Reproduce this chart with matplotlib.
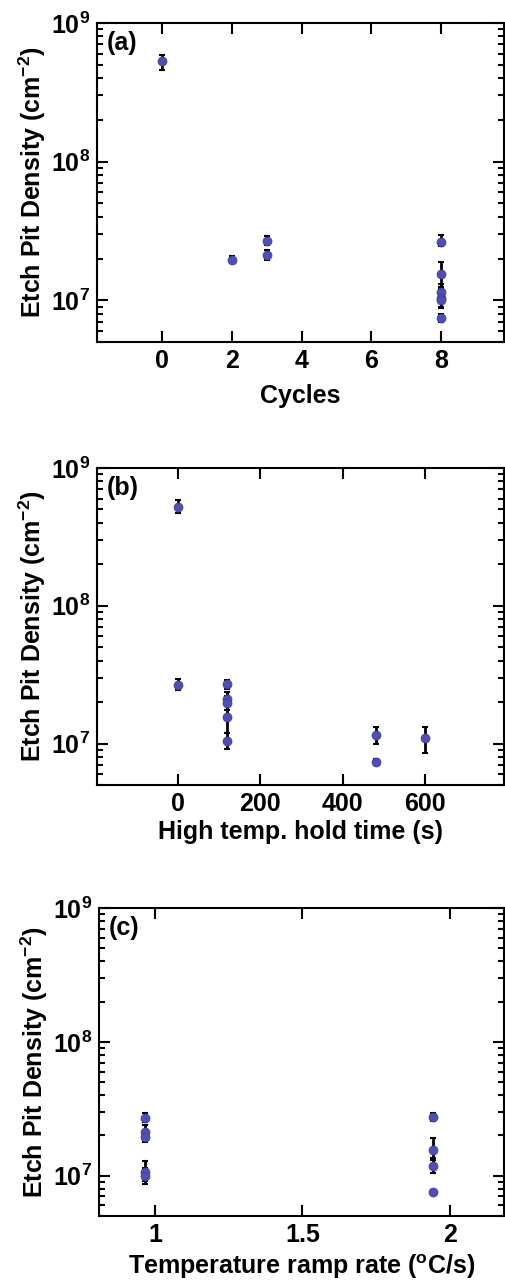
import numpy as np
import matplotlib
matplotlib.use('Agg')
import matplotlib.pyplot as plt
from matplotlib.ticker import LogLocator, NullFormatter

plt.rcParams['font.family'] = ['Liberation Sans', 'DejaVu Sans']
plt.rcParams['font.weight'] = 'bold'
plt.rcParams['mathtext.fontset'] = 'custom'
plt.rcParams['mathtext.rm'] = 'Liberation Sans:bold'
plt.rcParams['mathtext.bf'] = 'Liberation Sans:bold'
plt.rcParams['mathtext.default'] = 'bf'

# (a) etch pit density vs cycles
cyc_x = [0, 2, 3, 3, 8, 8, 8, 8, 8, 8]
cyc_y = [5.3e8, 1.95e7, 2.68e7, 2.11e7, 2.65e7, 1.54e7, 1.15e7, 1.04e7, 1.0e7, 7.45e6]
cyc_lo = [4.6e8, 1.85e7, 2.5e7, 1.95e7, 2.45e7, 1.25e7, 1.0e7, 0.9e7, 0.88e7, 7.0e6]
cyc_hi = [5.9e8, 2.1e7, 2.9e7, 2.3e7, 2.95e7, 1.9e7, 1.3e7, 1.2e7, 1.12e7, 7.9e6]

# (b) vs high temp. hold time
hold_x = [0, 0, 120, 120, 120, 120, 120, 480, 480, 600]
hold_y = [5.2e8, 2.68e7, 2.7e7, 2.12e7, 1.97e7, 1.56e7, 1.04e7, 1.15e7, 7.4e6, 1.09e7]
hold_lo = [4.7e8, 2.45e7, 2.5e7, 1.9e7, 1.75e7, 1.2e7, 9.2e6, 1.0e7, 7.1e6, 8.6e6]
hold_hi = [5.9e8, 2.95e7, 2.9e7, 2.35e7, 2.2e7, 1.9e7, 1.2e7, 1.32e7, 7.7e6, 1.32e7]

# (c) vs temperature ramp rate
ramp_x = [0.966, 0.966, 0.966, 0.966, 0.966, 1.943, 1.943, 1.943, 1.943]
ramp_y = [2.71e7, 2.13e7, 1.95e7, 1.06e7, 1.0e7, 2.75e7, 1.55e7, 1.19e7, 7.5e6]
ramp_lo = [2.5e7, 1.9e7, 1.8e7, 9.2e6, 8.7e6, 2.55e7, 1.3e7, 1.05e7, 7.2e6]
ramp_hi = [2.95e7, 2.4e7, 2.1e7, 1.28e7, 1.15e7, 2.95e7, 1.9e7, 1.35e7, 7.8e6]

W, H = 505, 1285
fig = plt.figure(figsize=(W / 100, H / 100), dpi=100)

def px_axes(l, t, r, b):
    return fig.add_axes([l / W, 1 - b / H, (r - l) / W, (b - t) / H])

panels = [
    (px_axes(97, 23, 504, 342), cyc_x, cyc_y, cyc_lo, cyc_hi, (-1.87, 9.8), [0, 2, 4, 6, 8],
     ['0', '2', '4', '6', '8'], 'Cycles', '(a)', 8),
    (px_axes(97, 468, 504, 785), hold_x, hold_y, hold_lo, hold_hi, (-197, 792), [0, 200, 400, 600],
     ['0', '200', '400', '600'], 'High temp. hold time (s)', '(b)', 3),
    (px_axes(99, 908, 504, 1216), ramp_x, ramp_y, ramp_lo, ramp_hi, (0.81, 2.184), [1, 1.5, 2],
     ['1', '1.5', '2'], r'Temperature ramp rate ($^{\mathrm{o}}$C/s)', '(c)', 4),
]

for ax, x, y, lo, hi, xl, xt, xtl, xlab, tag, lp in panels:
    y = np.array(y)
    err = [y - np.array(lo), np.array(hi) - y]
    ax.errorbar(x, y, yerr=err, fmt='none', ecolor='black', elinewidth=2, capsize=2.5, capthick=1.5, zorder=2)
    ax.plot(x, y, 'o', color='#4f4fb0', markersize=6.5, markeredgecolor='#3c3ca0', markeredgewidth=0.5, zorder=3)
    ax.set_yscale('log')
    ax.set_ylim(5e6, 1e9)
    ax.set_xlim(*xl)
    ax.set_xticks(xt)
    ax.set_xticklabels(xtl)
    ax.yaxis.set_major_locator(LogLocator(base=10, numticks=10))
    ax.yaxis.set_minor_locator(LogLocator(base=10, subs=np.arange(2, 10), numticks=20))
    ax.yaxis.set_minor_formatter(NullFormatter())
    ax.tick_params(which='both', direction='in', top=True, right=True, width=1.5)
    ax.tick_params(which='major', length=8, labelsize=18, pad=5)
    ax.tick_params(which='minor', length=4)
    ax.tick_params(axis='x', which='minor', top=False, bottom=False)
    for s in ax.spines.values():
        s.set_linewidth(1.5)
    ax.set_xlabel(xlab, fontsize=18, fontweight='bold', labelpad=lp)
    ax.set_ylabel(r'Etch Pit Density (cm$^{-2}$)', fontsize=18, fontweight='bold', labelpad=2)
    ax.text(0.025, 0.975, tag, transform=ax.transAxes, fontsize=18, fontweight='bold', va='top', ha='left')

plt.savefig('out.png', dpi=100)
